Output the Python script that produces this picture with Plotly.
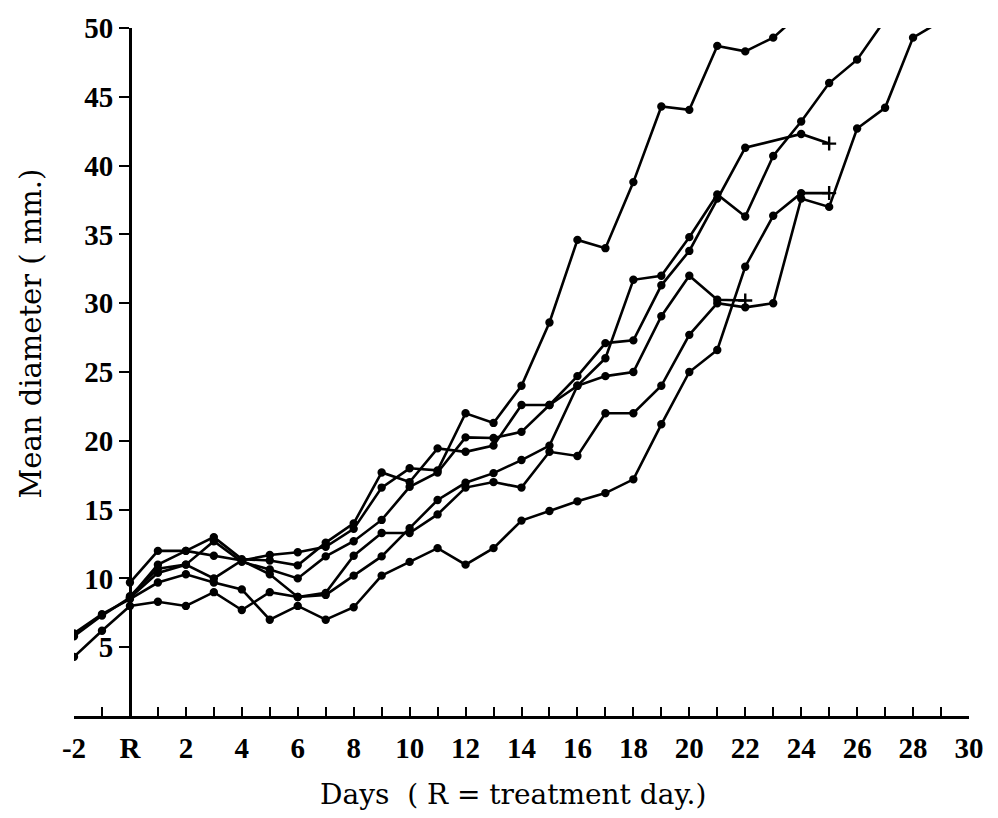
import plotly.graph_objects as go

days = list(range(-2, 30))  # -2 .. 29

# Mean diameter (mm.) per animal, by day (None = no measurement)
s1 = [None, None, 9.7, 12.0, 12.0, 11.65, 11.3, 11.7, 11.9, 12.3, 13.6, 16.6, 18.0, 17.85,
      22.0, 21.3, 24.0, 28.6, 34.6, 34.0, 38.8, 44.3, 44.05, 48.7, 48.3, 49.3, 51.1,
      None, None, None, None, None]
s2 = [5.8, 7.3, 8.6, 11.0, 12.0, 13.0, 11.4, 11.3, 10.95, 12.6, 14.0, 17.7, 17.0, 19.45,
      19.2, 19.65, 22.6, 22.6, 24.0, 26.0, 31.7, 32.0, 34.8, 37.9, 36.3, 40.7, 43.2,
      46.0, 47.7, 50.6, None, None]
s3 = [None, None, 8.6, 10.4, 11.0, 10.0, 11.3, 10.3, 8.65, 8.95, 11.65, 13.3, 13.3, 14.65,
      16.6, 17.0, 16.6, 19.2, 18.9, 22.0, 22.0, 24.0, 27.7, 30.0, 29.7, 30.0, 37.6,
      37.0, 42.7, 44.2, 49.3, 50.5]
s4 = [None, None, 8.7, 10.7, 11.0, 12.7, 11.2, 10.65, 10.0, 11.6, 12.7, 14.25, 16.65, 17.7,
      20.25, 20.2, 20.65, 22.6, 24.7, 27.1, 27.3, 31.3, 33.8, 37.6, 41.3, None, 42.3,
      41.6, None, None, None, None]
s5 = [4.3, 6.2, 8.0, 8.3, 8.0, 9.0, 7.7, 9.0, 8.65, 8.8, 10.2, 11.6, 13.65, 15.7,
      16.95, 17.65, 18.6, 19.65, 24.0, 24.7, 25.0, 29.05, 32.0, 30.25, 30.2, None, None,
      None, None, None, None, None]
s6 = [6.0, 7.4, 8.5, 9.7, 10.3, 9.7, 9.2, 7.0, 8.0, 7.0, 7.9, 10.2, 11.2, 12.2,
      11.0, 12.2, 14.2, 14.9, 15.6, 16.2, 17.2, 21.2, 25.0, 26.6, 32.65, 36.35, 38.0,
      38.0, None, None, None, None]

series = [s1, s2, s3, s4, s5, s6]
ends_with_cross = [False, False, False, True, True, True]  # "+" = last observation

x_tickvals = list(range(-2, 31))
x_ticktext = ["-2", "", "R", "", "2", "", "4", "", "6", "", "8", "", "10", "", "12", "",
              "14", "", "16", "", "18", "", "20", "", "22", "", "24", "", "26", "", "28", "", "30"]
y_tickvals = [5, 10, 15, 20, 25, 30, 35, 40, 45, 50]
y_ticktext = ["5", "10", "15", "20", "25", "30", "35", "40", "45", "50"]

fig = go.Figure()
for vals, cross in zip(series, ends_with_cross):
    last = max(i for i, v in enumerate(vals) if v is not None)
    symbols = ["circle"] * len(vals)
    sizes = [6] * len(vals)
    if cross:
        symbols[last] = "cross-thin"
        sizes[last] = 10
    fig.add_trace(go.Scatter(
        x=days, y=vals, mode="lines+markers", connectgaps=True,
        line=dict(color="#000000", width=2.6),
        marker=dict(color="#000000", symbol=symbols, size=sizes, opacity=1,
                    line=dict(color="#000000", width=2.4)),
        showlegend=False, hoverinfo="skip"))

tick_font = dict(family="Liberation Serif", size=29, color="black", weight="bold")

fig.update_layout(
    width=998, height=818,
    margin=dict(l=74, r=29, t=22, b=102),
    paper_bgcolor="white", plot_bgcolor="white",
    xaxis=dict(range=[-2, 30], tickmode="array", tickvals=x_tickvals, ticktext=x_ticktext,
               ticks="inside", ticklen=9, tickwidth=2, tickcolor="black",
               showline=True, linecolor="black", linewidth=2.6,
               showgrid=False, zeroline=False, tickfont=tick_font,
               ticklabelstandoff=4),
    yaxis=dict(range=[0, 50], tickmode="array", tickvals=y_tickvals, ticktext=y_ticktext,
               anchor="free", position=2 / 32,
               ticks="outside", ticklen=10, tickwidth=2, tickcolor="black",
               showline=True, linecolor="black", linewidth=2.6,
               showgrid=False, zeroline=False, tickfont=tick_font),
    annotations=[
        dict(text="Mean diameter ( mm.)", textangle=-90, xref="paper", yref="paper",
             x=-0.047, y=0.556, xanchor="center", yanchor="middle", showarrow=False,
             font=dict(family="DejaVu Serif", size=29, color="black")),
        dict(text="Days  ( R = treatment day.)", xref="paper", yref="paper",
             x=0.49, y=-0.114, xanchor="center", yanchor="middle", showarrow=False,
             font=dict(family="DejaVu Serif", size=28, color="black")),
    ],
)

fig.write_html("out.html")
